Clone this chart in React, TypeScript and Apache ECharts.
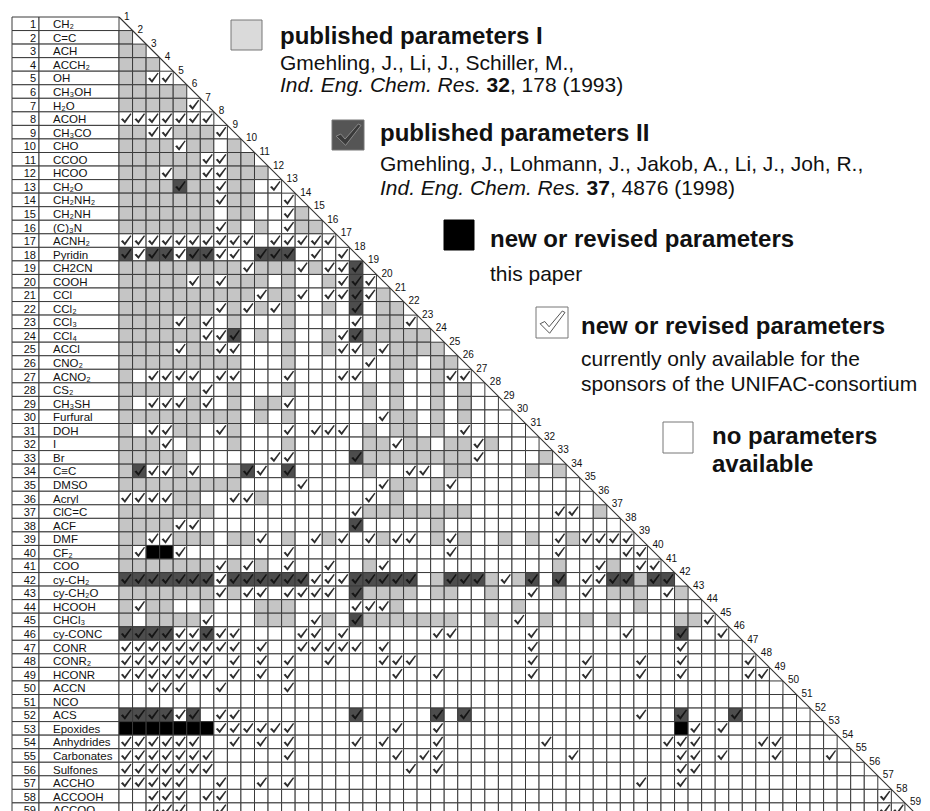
import React, { useEffect, useRef } from "react";
import * as echarts from "echarts";

// ---------- DATA ----------
const groupNumbers = Array.from({ length: 59 }, (_, i) => String(i + 1));

const groupNames = [
  "CH₂", "C=C", "ACH", "ACCH₂", "OH", "CH₃OH", "H₂O", "ACOH", "CH₃CO", "CHO",
  "CCOO", "HCOO", "CH₂O", "CH₂NH₂", "CH₂NH", "(C)₃N", "ACNH₂", "Pyridin", "CH2CN", "COOH",
  "CCl", "CCl₂", "CCl₃", "CCl₄", "ACCl", "CNO₂", "ACNO₂", "CS₂", "CH₃SH", "Furfural",
  "DOH", "I", "Br", "C≡C", "DMSO", "Acryl", "ClC=C", "ACF", "DMF", "CF₂",
  "COO", "cy-CH₂", "cy-CH₂O", "HCOOH", "CHCl₃", "cy-CONC", "CONR", "CONR₂", "HCONR", "ACCN",
  "NCO", "ACS", "Epoxides", "Anhydrides", "Carbonates", "Sulfones", "ACCHO", "ACCOOH", "ACCOO",
];

// status per row (column 1 .. row-1):
// g = published parameters I, d = published parameters II, b = new (this paper),
// v = new (consortium only), . = no parameters
const cellRows = [
  "",
  "g",
  "gg",
  "ggg",
  "ggvv",
  "ggggg",
  "gggggv",
  "vvvvvvv",
  "ggvvgggv",
  "ggggvgg.g",
  "ggggggvvgg",
  "gggvggvvggg",
  "ggggdggvgg.v",
  "gggggggvgg..v",
  "ggggggg.gg..vg",
  "gggggggvg.g.vgg",
  "vvvvvvvvvv.vvvvv",
  "dvddvddvv.ddd.v.v",
  "gggggggggvgggvgvvd",
  "gggggvgvggg.g..gvdv",
  "ggggggggggvggv.vvdvg",
  "gggggggvgvgvg..g.d.gg",
  "ggggvgv.g...g....v.ggv",
  "ggggggvvd.g.g..gvdggggg",
  "ggggvggvv...g..gvvgvgggg",
  "ggggggggg...g.....v.gg.gg",
  "g.vvvv.vv...v...vv..g..gvv",
  "gggg.gv.g...g.....g.g..g.g.",
  "g.vvvgv.g.ggv.....g.g..g.g..",
  "ggggggggg.g.g......vgg.g.g...",
  "g.vvgg.vg...v.vvv.g.gg.g.v....",
  "gggv.g..g...g.....ggvgg.ggvg...",
  "ggggg......vv....dggggggggv....g",
  "gdvvgv..gdv.d.....g..vv.gg....g.g",
  "ggggggggg....v.....vgg.gv.........",
  "vvvvgg..vvg.......v.g..............",
  "ggggggg..........vgggggggg......vv.g",
  "ggggvv...........d.....g.............",
  "ggvvggg.ggv.g.vgv.vgvv.gvg..g.g.vgvvvv",
  "gvbbv.......v...........v.......v....vv",
  "gggggggvgvg.v..v..gv............g..vg.vv",
  "dddddddvddddddvvvddddd.gdddgvgd.d.vvddgdd",
  "gggggggvgvv.vvvv.dgggg.gg..g..v.g.v.ggg.vg",
  "gvgg..g...ggg....vvvg........g........g....",
  "g.ggggv...ggg.vg.dggggggg..g.v.g..g.g....ggv",
  "ddddvvdvv....vv.v......vv.....v......v...d..v",
  "vvvvvvvvv.v..vvvvv.v..........v..........v....",
  "vvvvvvv.v.v.v..v...vvv........v...v...v..v....v",
  "vvvvvvv.v.v.v.......v..v......v...v...v..v....vv",
  "..vvv..v....v",
  "",
  "ddddvd.vv........d.....d.d............v..d...d.....",
  "bbbbbbbvvvvvv.......v..v.................bv.v.......",
  "vvvvvv..v.v.v....v.v...v.......v........vvv....vv....",
  "vvvvvvv.....v.......v.vv.........v.......vv.v...v...v.",
  "vvvvvvv..............v.v.................vv............",
  "vvvvv..v..v.v.........................v..v..............",
  "..vvv.vv.." + ".........." + ".........." + ".........." + ".........." + "......v",
  "..vvv..v.." + ".........." + ".........." + ".........." + ".........." + "......vv",
];

const legendTitles = [
  "published parameters I",
  "published parameters II",
  "new or revised parameters",
  "new or revised parameters",
  "no parameters",
];
const legendNotes = [
  ["Gmehling, J., Li, J., Schiller, M.,", "{i|Ind. Eng. Chem. Res.} {b|32}, 178 (1993)"],
  ["Gmehling, J., Lohmann, J., Jakob, A., Li, J., Joh, R.,", "{i|Ind. Eng. Chem. Res.} {b|37}, 4876 (1998)"],
  ["this paper"],
  ["currently only available for the", "sponsors of the UNIFAC-consortium"],
  ["available"],
];

// ---------- LAYOUT / STYLE ----------
const N = 59;
const CELL = 13.55;
const GRID_LEFT = 119;
const GRID_TOP = 17;
const FONT = '"Liberation Sans", Arial, "DejaVu Sans", sans-serif';
const CODE: Record<string, number> = { ".": 0, g: 1, d: 2, b: 3, v: 4 };
const FILL = ["#ffffff", "#c5c5c5", "#4d4d4d", "#000000", "#ffffff"];
const LINE = "#3a3a3a";

const cellData: number[][] = [];
cellRows.forEach((row, i) => {
  const r = i + 1;
  for (let c = 1; c < r; c++) {
    const ch = row[c - 1] || ".";
    cellData.push([c, r, CODE[ch] ?? 0]);
  }
});

function checkPoints(x: number, y: number, w: number, h: number) {
  const f = [
    [0.08, 0.55], [0.25, 0.46], [0.41, 0.67], [0.9, 0.04],
    [1.0, 0.1], [0.43, 0.93],
  ];
  return f.map(([a, b]) => [x + a * w, y + b * h]);
}

const legendLayout = [
  { box: [231, 20, 31, 30], tx: 280, ty: 35, ny: [62, 84] },
  { box: [332, 120, 32, 30], tx: 380, ty: 132, ny: [163, 187] },
  { box: [444, 220, 30, 30], tx: 490, ty: 238, ny: [273] },
  { box: [536, 307, 32, 31], tx: 581, ty: 325, ny: [358, 383] },
  { box: [663, 422, 30, 31], tx: 712, ty: 435, ny: [463] },
];

function buildLegend() {
  const els: any[] = [];
  legendLayout.forEach((L, i) => {
    const [bx, by, bw, bh] = L.box;
    const fills = ["#dadada", "#555555", "#000000", "#ffffff", "#ffffff"];
    els.push({
      type: "rect",
      shape: { x: bx, y: by, width: bw, height: bh },
      style: { fill: fills[i], stroke: i === 2 ? "#000" : "#777", lineWidth: 1 },
    });
    if (i === 1 || i === 3) {
      els.push({
        type: "polygon",
        shape: { points: checkPoints(bx + 2, by + 3, bw - 5, bh - 6) },
        style: { fill: i === 1 ? "#3a3a3a" : "#ffffff", stroke: i === 1 ? "#8a8a8a" : "#555", lineWidth: 1 },
      });
    }
    els.push({
      type: "text",
      x: L.tx,
      y: L.ty,
      style: {
        text: legendTitles[i],
        fontFamily: FONT,
        fontSize: 24,
        lineHeight: 24,
        fontWeight: "bold",
        fill: "#111",
        verticalAlign: "middle",
        align: "left",
      },
    });
    legendNotes[i].forEach((note, k) => {
      const isTitle = i === 4;
      els.push({
        type: "text",
        x: L.tx,
        y: L.ny[k],
        style: {
          text: note,
          fontFamily: FONT,
          fontSize: isTitle ? 24 : 21,
          lineHeight: isTitle ? 24 : 21,
          fontWeight: isTitle ? "bold" : "normal",
          fill: "#111",
          verticalAlign: "middle",
          align: "left",
          rich: {
            i: { fontStyle: "italic", fontSize: 21, lineHeight: 21, fontFamily: FONT, fill: "#111" },
            b: { fontWeight: "bold", fontSize: 21, lineHeight: 21, fontFamily: FONT, fill: "#111" },
          },
        },
      });
    });
  });
  return els;
}

function buildOption(): any {
  return {
    animation: false,
    backgroundColor: "#ffffff",
    grid: {
      left: GRID_LEFT,
      top: GRID_TOP,
      width: N * CELL,
      height: N * CELL,
      containLabel: false,
      outerBoundsMode: "none",
    },
    xAxis: { type: "value", min: 0, max: N, show: false },
    yAxis: { type: "value", min: 0, max: N, inverse: true, show: false },
    series: [
      {
        type: "custom",
        name: "table",
        clip: false,
        data: groupNames.map((_, i) => [0, i + 1]),
        renderItem: (params: any, api: any) => {
          const r = api.value(1);
          const a = api.coord([0, r - 1]);
          const b = api.coord([0, r]);
          const x0 = a[0];
          const y = a[1];
          const h = b[1] - a[1];
          return {
            type: "group",
            children: [
              { type: "rect", shape: { x: x0 - 107, y, width: 27, height: h }, style: { fill: "#fff", stroke: LINE, lineWidth: 1 } },
              { type: "rect", shape: { x: x0 - 80, y, width: 80, height: h }, style: { fill: "#fff", stroke: LINE, lineWidth: 1 } },
              {
                type: "text",
                x: x0 - 83,
                y: y + h / 2 + 0.5,
                style: { text: groupNumbers[params.dataIndex], fontFamily: FONT, fontSize: 11, fill: "#111", align: "right", verticalAlign: "middle" },
              },
              {
                type: "text",
                x: x0 - 66,
                y: y + h / 2 + 0.5,
                style: { text: groupNames[params.dataIndex], fontFamily: FONT, fontSize: 11.5, fill: "#111", align: "left", verticalAlign: "middle" },
              },
            ],
          };
        },
      },
      {
        type: "custom",
        name: "cells",
        clip: false,
        data: cellData,
        renderItem: (_params: any, api: any) => {
          const c = api.value(0);
          const r = api.value(1);
          const s = api.value(2);
          const a = api.coord([c - 1, r - 1]);
          const b = api.coord([c, r]);
          const x = a[0], y = a[1], w = b[0] - a[0], h = b[1] - a[1];
          const children: any[] = [
            { type: "rect", shape: { x, y, width: w, height: h }, style: { fill: FILL[s], stroke: LINE, lineWidth: 1 } },
          ];
          if (s === 2 || s === 4) {
            children.push({
              type: "polygon",
              shape: { points: checkPoints(x + 1, y + 1, w - 2, h - 2) },
              style: { fill: s === 2 ? "#151515" : "#2e2e2e" },
            });
          }
          return { type: "group", children };
        },
      },
      {
        type: "custom",
        name: "diagonal",
        clip: false,
        data: [[0, 0]],
        renderItem: (_params: any, api: any) => {
          const a = api.coord([0, 0]);
          const b = api.coord([N, N]);
          return { type: "line", shape: { x1: a[0], y1: a[1], x2: b[0], y2: b[1] }, style: { stroke: "#333", lineWidth: 1.1 } };
        },
      },
      {
        type: "custom",
        name: "columnLabels",
        clip: false,
        data: groupNumbers.map((_, i) => [i, i]),
        renderItem: (params: any, api: any) => {
          const p = api.coord([api.value(0), api.value(1)]);
          return {
            type: "text",
            x: p[0] + 5,
            y: p[1] + 4,
            style: { text: groupNumbers[params.dataIndex], fontFamily: FONT, fontSize: 10, fill: "#111", align: "left", verticalAlign: "bottom" },
          };
        },
      },
    ],
    graphic: buildLegend(),
  };
}

export default function App() {
  const ref = useRef<HTMLDivElement>(null);
  useEffect(() => {
    const el = ref.current;
    if (!el) return;
    const chart = echarts.init(el, null, { renderer: "svg" });
    chart.setOption(buildOption());
    return () => chart.dispose();
  }, []);
  return (
    <div
      ref={ref}
      style={{ position: "fixed", left: 0, top: 0, width: 930, height: 811, background: "#fff" }}
    />
  );
}
